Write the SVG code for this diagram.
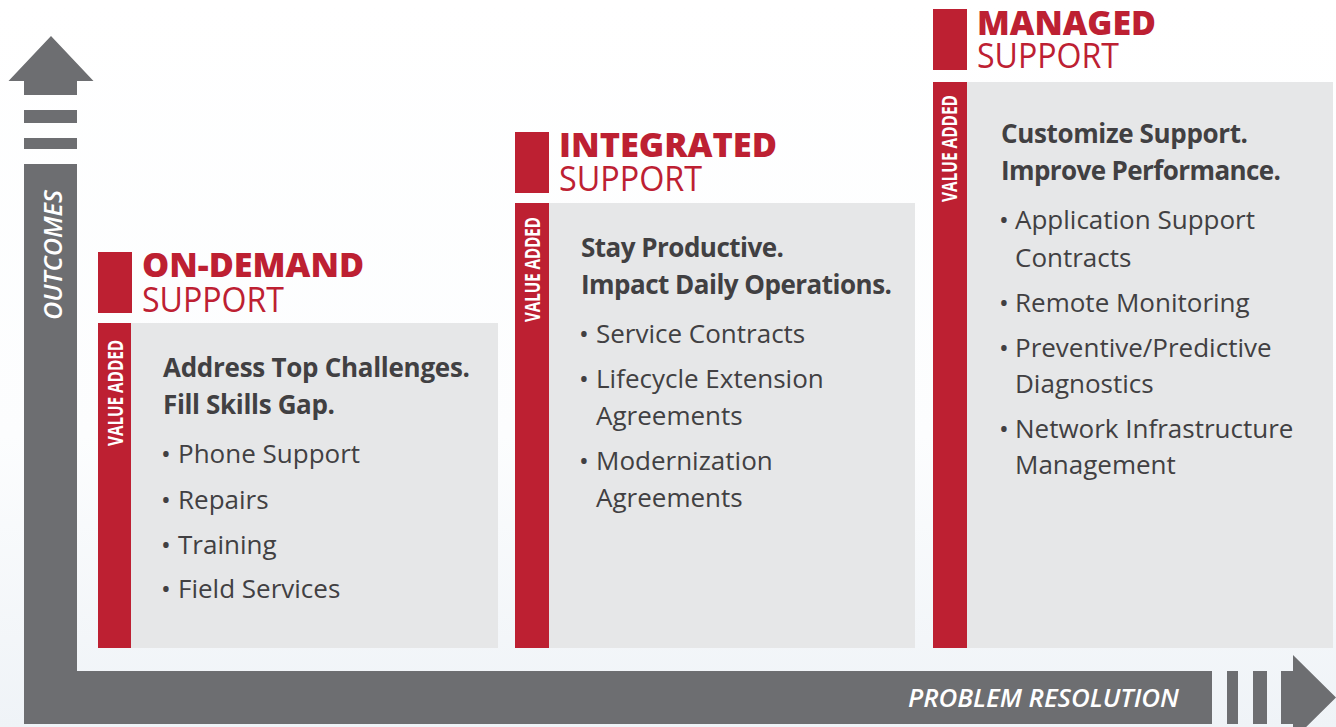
<svg xmlns="http://www.w3.org/2000/svg" width="1336" height="727" viewBox="0 0 1336 727">
  <defs>
    <linearGradient id="bg" x1="0" y1="0" x2="0" y2="1">
      <stop offset="0" stop-color="#ffffff"/>
      <stop offset="0.6" stop-color="#fcfdfe"/>
      <stop offset="1" stop-color="#eff3f7"/>
    </linearGradient>
    <style>
      .axis { fill: #6d6e71; }
      .red { fill: #bd2032; }
      .panel { fill: #e6e7e8; }
      .head-bold { font-family: "Open Sans", "Noto Sans", sans-serif; font-weight: 800; font-size: 34px; fill: #bd2032; }
      .head-reg { font-family: "Open Sans", "Noto Sans", sans-serif; font-weight: 400; font-size: 34px; fill: #bd2032; }
      .tag { font-family: "Open Sans", "Noto Sans", sans-serif; font-weight: 700; font-size: 22px; fill: #ffffff; }
      .lead { font-family: "Open Sans", "Noto Sans", sans-serif; font-weight: 700; font-size: 26px; fill: #414042; }
      .item { font-family: "Open Sans", "Noto Sans", sans-serif; font-weight: 400; font-size: 26px; fill: #414042; }
      .axis-label { font-family: "Open Sans", "Noto Sans", sans-serif; font-weight: 600; font-style: italic; font-size: 26px; fill: #ffffff; }
    </style>
  </defs>

  <rect x="0" y="0" width="1336" height="727" fill="url(#bg)"/>

  <!-- axes -->
  <g id="axes">
    <g id="axis-outcomes">
      <path class="axis" d="M51,36 L93.5,81 L77,81 L77,95 L24,95 L24,81 L8.5,81 Z"/>
      <rect class="axis" x="24" y="110" width="53" height="13"/>
      <rect class="axis" x="24" y="138" width="53" height="11"/>
      <rect class="axis" x="24" y="164" width="53" height="560"/>
      <text class="axis-label" transform="translate(62,320) rotate(-90)" x="0" y="0" textLength="130" lengthAdjust="spacingAndGlyphs">OUTCOMES</text>
    </g>
    <g id="axis-resolution">
      <rect class="axis" x="24" y="671" width="1188" height="53"/>
      <rect class="axis" x="1227" y="671" width="11" height="53"/>
      <rect class="axis" x="1253" y="671" width="14" height="53"/>
      <path class="axis" d="M1281,671 L1293,671 L1293,655 L1336,697.5 L1293,740 L1293,724 L1281,724 Z"/>
      <text class="axis-label" x="908" y="707" textLength="271" lengthAdjust="spacingAndGlyphs">PROBLEM RESOLUTION</text>
    </g>
  </g>

  <!-- tier 1 -->
  <g id="tier-on-demand">
    <rect class="red" x="98" y="252" width="34" height="61"/>
    <text class="head-bold" x="142" y="277" textLength="222" lengthAdjust="spacingAndGlyphs">ON-DEMAND</text>
    <text class="head-reg" x="142" y="312" textLength="142" lengthAdjust="spacingAndGlyphs">SUPPORT</text>
    <rect class="panel" x="131" y="323" width="367" height="325"/>
    <rect class="red" x="98" y="323" width="33" height="325"/>
    <text class="tag" transform="translate(123,446) rotate(-90)" x="0" y="0" textLength="106" lengthAdjust="spacingAndGlyphs">VALUE ADDED</text>
    <text class="lead" x="163" y="377" textLength="307">Address Top Challenges.</text>
    <text class="lead" x="163" y="414" textLength="172">Fill Skills Gap.</text>
    <text class="item" x="161" y="463">•</text><text class="item" x="178" y="463">Phone Support</text>
    <text class="item" x="161" y="509">•</text><text class="item" x="178" y="509">Repairs</text>
    <text class="item" x="161" y="554">•</text><text class="item" x="178" y="554">Training</text>
    <text class="item" x="161" y="598">•</text><text class="item" x="178" y="598">Field Services</text>
  </g>

  <!-- tier 2 -->
  <g id="tier-integrated">
    <rect class="red" x="515" y="132" width="34" height="61"/>
    <text class="head-bold" x="559" y="157" textLength="218" lengthAdjust="spacingAndGlyphs">INTEGRATED</text>
    <text class="head-reg" x="559" y="191" textLength="143" lengthAdjust="spacingAndGlyphs">SUPPORT</text>
    <rect class="panel" x="549" y="203" width="366" height="445"/>
    <rect class="red" x="515" y="203" width="34" height="445"/>
    <text class="tag" transform="translate(540,322) rotate(-90)" x="0" y="0" textLength="105" lengthAdjust="spacingAndGlyphs">VALUE ADDED</text>
    <text class="lead" x="581" y="257" textLength="203">Stay Productive.</text>
    <text class="lead" x="581" y="294" textLength="311">Impact Daily Operations.</text>
    <text class="item" x="579" y="343">•</text><text class="item" x="596" y="343">Service Contracts</text>
    <text class="item" x="579" y="388">•</text><text class="item" x="596" y="388">Lifecycle Extension</text>
    <text class="item" x="596" y="425">Agreements</text>
    <text class="item" x="579" y="470">•</text><text class="item" x="596" y="470">Modernization</text>
    <text class="item" x="596" y="507">Agreements</text>
  </g>

  <!-- tier 3 -->
  <g id="tier-managed">
    <rect class="red" x="933" y="9" width="34" height="61"/>
    <text class="head-bold" x="977" y="35" textLength="179" lengthAdjust="spacingAndGlyphs">MANAGED</text>
    <text class="head-reg" x="977" y="68" textLength="142" lengthAdjust="spacingAndGlyphs">SUPPORT</text>
    <rect class="panel" x="967" y="82" width="366" height="566"/>
    <rect class="red" x="933" y="82" width="34" height="566"/>
    <text class="tag" transform="translate(957,202) rotate(-90)" x="0" y="0" textLength="107" lengthAdjust="spacingAndGlyphs">VALUE ADDED</text>
    <text class="lead" x="1001" y="143" textLength="247">Customize Support.</text>
    <text class="lead" x="1001" y="180" textLength="280">Improve Performance.</text>
    <text class="item" x="999" y="229">•</text><text class="item" x="1015" y="229">Application Support</text>
    <text class="item" x="1015" y="267">Contracts</text>
    <text class="item" x="999" y="312">•</text><text class="item" x="1015" y="312">Remote Monitoring</text>
    <text class="item" x="999" y="357">•</text><text class="item" x="1015" y="357">Preventive/Predictive</text>
    <text class="item" x="1015" y="393">Diagnostics</text>
    <text class="item" x="999" y="438">•</text><text class="item" x="1015" y="438">Network Infrastructure</text>
    <text class="item" x="1015" y="474">Management</text>
  </g>
</svg>
